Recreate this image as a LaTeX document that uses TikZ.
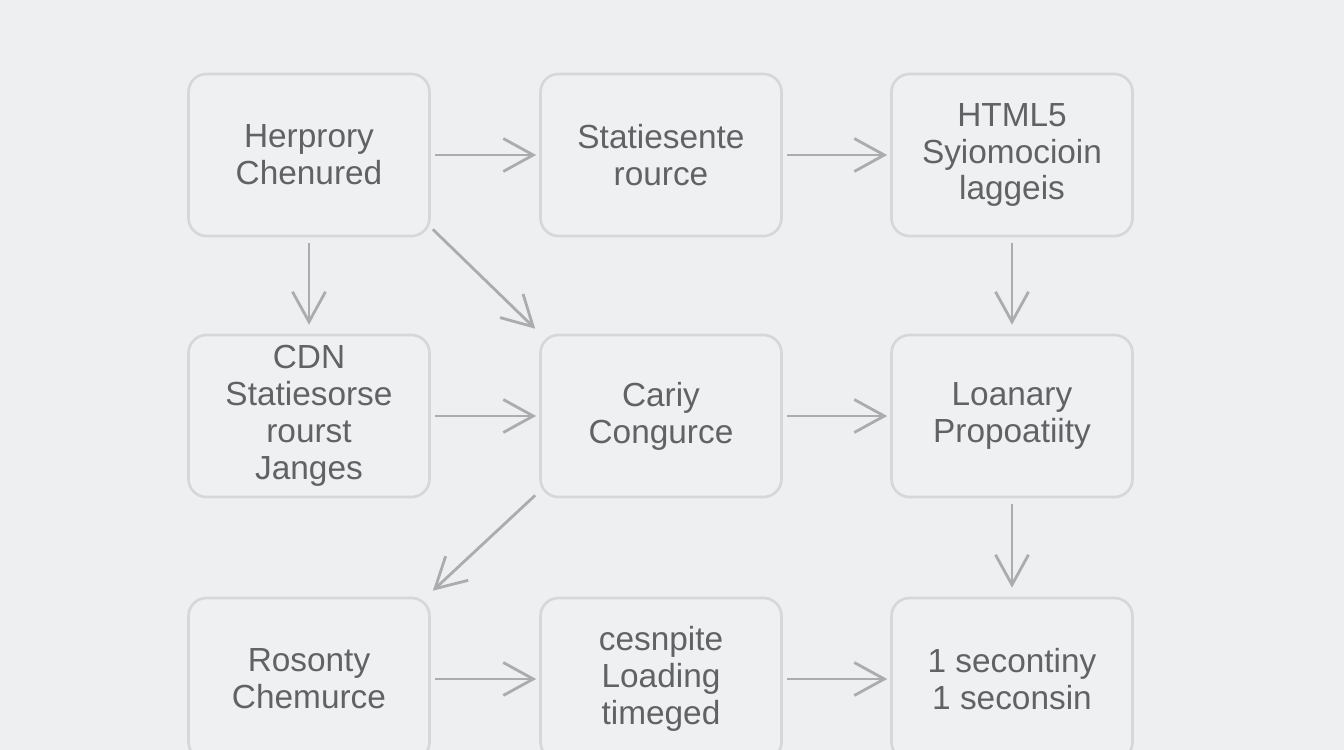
\documentclass[tikz,border=0pt]{standalone}
\usepackage{fontspec}
\setmainfont{Liberation Sans}
\usetikzlibrary{arrows.meta}
\definecolor{bgc}{HTML}{EDEFF1}
\definecolor{boxfill}{HTML}{EFF0F2}
\definecolor{boxline}{HTML}{D5D7DA}
\definecolor{arrowc}{HTML}{ABACAE}
\definecolor{txt}{HTML}{626262}
\begin{document}
\begin{tikzpicture}[y=-1cm,
    stage/.style={draw=boxline,fill=boxfill,line width=0.75pt,rounded corners=0.18cm,
      minimum width=2.41cm,minimum height=1.62cm,inner sep=0pt,align=center,
      text=txt,font=\fontsize{9.5}{10.5}\selectfont},
    flow/.style={draw=arrowc,line width=0.8pt,-{Straight Barb[length=3mm,width=3.3mm]},
      shorten <=0.04cm,shorten >=0.03cm},
    drop/.style={flow,shorten <=0.06cm,shorten >=0.09cm}]
  \fill[bgc](0,0)rectangle(13.44,7.5);
  \clip(0,0)rectangle(13.44,7.5);
  % row 1
  \node[stage](hp)at(3.09,1.55){Herprory\\Chenured};
  \node[stage](sr)at(6.61,1.55){Statiesente\\rource};
  \node[stage](ht)at(10.12,1.55){HTML5\\Syiomocioin\\laggeis};
  % row 2
  \node[stage](cdn)at(3.09,4.16){CDN\\Statiesorse\\rourst\\Janges};
  \node[stage](cc)at(6.61,4.16){Cariy\\Congurce};
  \node[stage](lp)at(10.12,4.16){Loanary\\Propoatiity};
  % row 3
  \node[stage](rc)at(3.09,6.79){Rosonty\\Chemurce};
  \node[stage](lt)at(6.61,6.79){cesnpite\\Loading\\timeged};
  \node[stage](sc)at(10.12,6.79){1 secontiny\\1 seconsin};
  % arrows
  \draw[flow](hp)--(sr);
  \draw[flow](sr)--(ht);
  \draw[flow](cdn)--(cc);
  \draw[flow](cc)--(lp);
  \draw[flow](rc)--(lt);
  \draw[flow](lt)--(sc);
  \draw[drop](hp)--(cdn);
  \draw[drop](ht)--(lp);
  \draw[drop](lp)--(sc);
  \draw[flow,shorten <=0pt,shorten >=0pt]([shift={(0.02,-0.08)}]hp.south east)--([shift={(-0.04,-0.05)}]cc.north west);
  \draw[flow,shorten <=0pt,shorten >=0pt]([shift={(-0.04,-0.03)}]cc.south west)--([shift={(0.02,-0.06)}]rc.north east);
\end{tikzpicture}
\end{document}
